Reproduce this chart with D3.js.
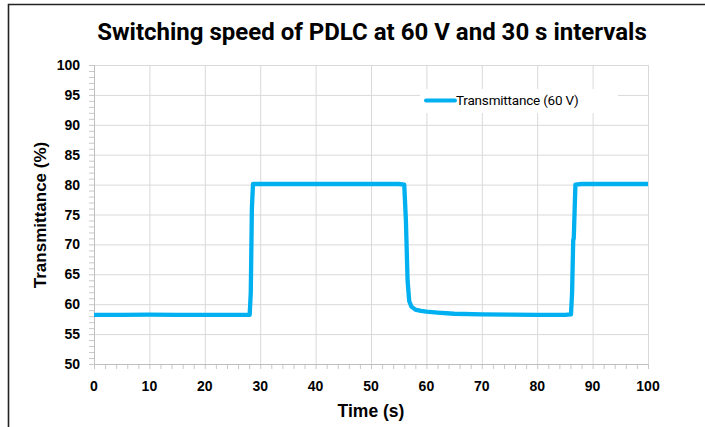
<!DOCTYPE html>
<html>
<head>
<meta charset="utf-8">
<script src="https://cdn.jsdelivr.net/npm/d3@7"></script>
<style>
  body { margin: 0; background: #fff; }
  svg { display: block; }
</style>
</head>
<body>
<div id="chart"></div>
<script>
// time (s) and transmittance (%)
var timeS = [0, 5, 10, 15, 20, 25, 28.1, 28.3, 28.5, 28.7, 30, 35, 40, 45, 50, 55, 56.0,
  56.3, 56.6, 56.9, 57.3, 58, 59, 60, 62, 65, 70, 75, 80, 85, 86.1, 86.3, 86.5, 86.6,
  86.9, 88, 90, 95, 100];
var transmittance = [58.2, 58.2, 58.25, 58.2, 58.2, 58.2, 58.2, 62, 76, 80.1, 80.1, 80.1,
  80.1, 80.1, 80.1, 80.1, 80.0, 74, 64, 60.5, 59.6, 59.1, 58.9, 58.75, 58.6, 58.4, 58.3,
  58.25, 58.2, 58.2, 58.3, 62, 70.7, 71, 80.0, 80.1, 80.1, 80.1, 80.1];
var xTicks = [0, 10, 20, 30, 40, 50, 60, 70, 80, 90, 100];
var yTicks = [50, 55, 60, 65, 70, 75, 80, 85, 90, 95, 100];
var seriesName = "Transmittance (60 V)";

var W = 705, H = 427;
var svg = d3.select("#chart").append("svg").attr("width", W).attr("height", H);

var x = d3.scaleLinear().domain([0, 100]).range([94, 648]);
var y = d3.scaleLinear().domain([50, 100]).range([364, 65]);

// frame round the picture
svg.append("path")
  .attr("d", "M8.5," + H + "V4.5H" + W)
  .attr("fill", "none").attr("stroke", "#222").attr("stroke-width", 1.6);

// gridlines
svg.append("g").selectAll("line").data(yTicks.slice(1)).enter().append("line")
  .attr("x1", x(0)).attr("x2", x(100))
  .attr("y1", function (d) { return y(d) + 0.5; }).attr("y2", function (d) { return y(d) + 0.5; })
  .attr("stroke", "#d9d9d9");
svg.append("g").selectAll("line").data(xTicks.slice(1)).enter().append("line")
  .attr("x1", function (d) { return x(d) + 0.5; }).attr("x2", function (d) { return x(d) + 0.5; })
  .attr("y1", y(50)).attr("y2", y(100))
  .attr("stroke", "#d9d9d9");

// minor ticks
svg.append("g").selectAll("line").data(d3.range(50, 101, 1)).enter().append("line")
  .attr("x1", x(0) - 5).attr("x2", x(0))
  .attr("y1", function (d) { return y(d) + 0.5; }).attr("y2", function (d) { return y(d) + 0.5; })
  .attr("stroke", "#c8c8c8");
svg.append("g").selectAll("line").data(d3.range(0, 101, 2)).enter().append("line")
  .attr("x1", function (d) { return x(d) + 0.5; }).attr("x2", function (d) { return x(d) + 0.5; })
  .attr("y1", y(50)).attr("y2", y(50) + 5)
  .attr("stroke", "#c8c8c8");

// axis lines
svg.append("line").attr("x1", x(0) + 0.5).attr("x2", x(0) + 0.5).attr("y1", y(50)).attr("y2", y(100))
  .attr("stroke", "#bfbfbf");
svg.append("line").attr("x1", x(0)).attr("x2", x(100)).attr("y1", y(50) + 0.5).attr("y2", y(50) + 0.5)
  .attr("stroke", "#bfbfbf");

// tick labels
var tickFont = "'Liberation Sans', Arial, sans-serif";
svg.append("g").selectAll("text").data(yTicks).enter().append("text")
  .attr("x", 80).attr("y", function (d) { return y(d); })
  .attr("dy", "0.36em")
  .attr("text-anchor", "end")
  .style("font-family", tickFont).style("font-weight", "bold").style("font-size", "14px")
  .text(function (d) { return d; });
svg.append("g").selectAll("text").data(xTicks).enter().append("text")
  .attr("x", function (d) { return x(d); }).attr("y", 391)
  .attr("text-anchor", "middle")
  .style("font-family", tickFont).style("font-weight", "bold").style("font-size", "14px")
  .text(function (d) { return d; });

// axis titles
svg.append("text")
  .attr("x", 371).attr("y", 417)
  .attr("text-anchor", "middle")
  .style("font-family", tickFont).style("font-weight", "bold").style("font-size", "17.5px")
  .text("Time (s)");
svg.append("text")
  .attr("transform", "translate(46,215) rotate(-90)")
  .attr("text-anchor", "middle")
  .style("font-family", tickFont).style("font-weight", "bold").style("font-size", "17px")
  .text("Transmittance (%)");

// chart title
svg.append("text")
  .attr("x", 372).attr("y", 40)
  .attr("text-anchor", "middle")
  .style("font-family", "Roboto, 'Liberation Sans', sans-serif").style("font-weight", "bold")
  .style("font-size", "24px")
  .text("Switching speed of PDLC at 60 V and 30 s intervals");

// the series
var pts = timeS.map(function (t, i) { return [t, transmittance[i]]; });
svg.append("path")
  .datum(pts)
  .attr("fill", "none")
  .attr("stroke", "#00b0f0")
  .attr("stroke-width", 4.3)
  .attr("stroke-linejoin", "round")
  .attr("d", d3.line().x(function (d) { return x(d[0]); }).y(function (d) { return y(d[1]); }));

// legend
var lg = svg.append("g");
lg.append("rect").attr("x", 420).attr("y", 89).attr("width", 198).attr("height", 24).attr("fill", "#fff");
lg.append("line").attr("x1", 426).attr("x2", 455).attr("y1", 100.5).attr("y2", 100.5)
  .attr("stroke", "#00b0f0").attr("stroke-width", 4).attr("stroke-linecap", "round");
lg.append("text").attr("x", 456).attr("y", 105)
  .style("font-family", "Roboto, 'Liberation Sans', sans-serif").style("font-size", "13.5px")
  .style("letter-spacing", "-0.2px")
  .text(seriesName);
</script>
</body>
</html>
